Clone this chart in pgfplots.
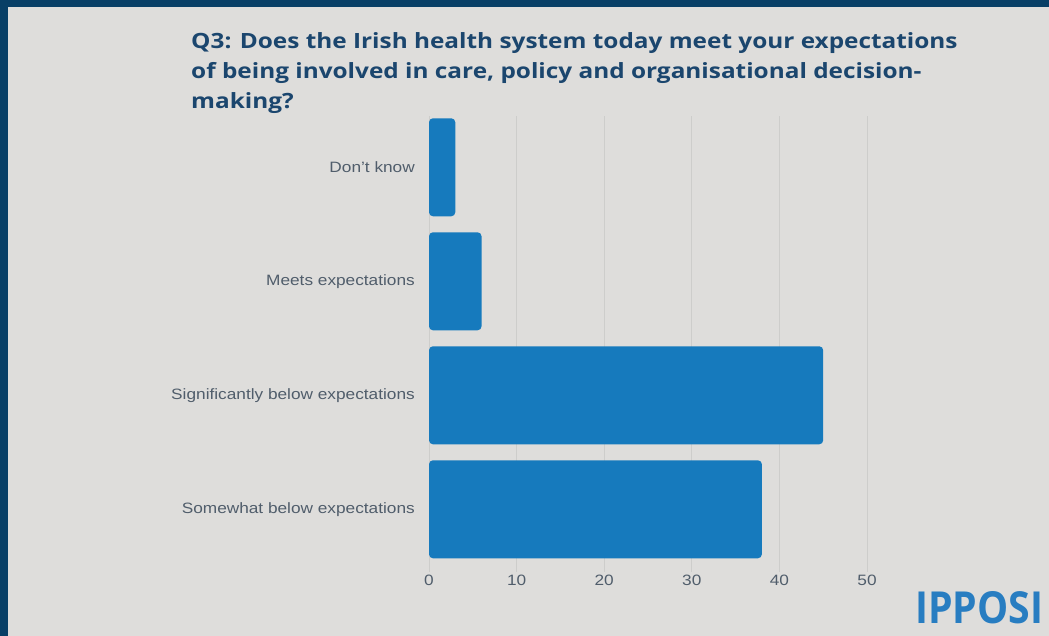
\documentclass[border=0pt]{standalone}
\usepackage{fontspec}
\setmainfont{Liberation Sans}[FakeStretch=1.15]
\newfontfamily\titlefont{Open Sans}[FakeStretch=1.16]
\newfontfamily\logofont{Open Sans}
\usepackage{pgfplots}
\pgfplotsset{compat=1.18}
\definecolor{bgc}{RGB}{222,221,219}
\definecolor{borderc}{RGB}{8,63,102}
\definecolor{titlec}{RGB}{27,70,110}
\definecolor{barc}{RGB}{22,122,189}
\definecolor{labc}{RGB}{80,93,107}
\definecolor{gridc}{RGB}{205,205,203}
\definecolor{logoc}{RGB}{40,125,193}
\begin{document}
\begin{tikzpicture}[x=1pt,y=1pt]
\fill[bgc] (0pt,0pt) rectangle (1049pt,636pt);
\fill[borderc] (0pt,0pt) rectangle (8pt,636pt);
\fill[borderc] (0pt,629pt) rectangle (1049pt,636pt);
\begin{scope}[every node/.style={anchor=base west, inner sep=0pt, text=titlec, font=\titlefont\bfseries\fontsize{21}{30}\selectfont}]
\node at (191pt,587.5pt) {Q3: Does the Irish health system today meet your expectations};
\node at (191pt,557.5pt) {of being involved in care, policy and organisational decision-};
\node at (191pt,527.5pt) {making?};
\end{scope}
\begin{axis}[
  at={(429pt,64pt)}, anchor=south west,
  scale only axis,
  width=446.76pt, height=456pt,
  xmin=0, xmax=51, ymin=-0.55, ymax=3.45,
  xbar, bar width=0.86,
  axis line style={draw=none},
  major tick length=0pt,
  xtick={0,10,20,30,40,50},
  ytick={0,1,2,3},
  yticklabels={Somewhat below expectations, Significantly below expectations, Meets expectations, Don't know},
  xmajorgrids, grid style={gridc, line width=0.7pt},
  /pgf/number format/assume math mode=true,
  tick label style={text=labc, font=\fontsize{15}{17}\selectfont},
  yticklabel style={anchor=east, inner sep=0pt, xshift=-14pt},
  xticklabel style={anchor=north, inner sep=0pt, yshift=-3pt},
]
\addplot[fill=barc, draw=none, rounded corners=4pt] coordinates {(38,0) (45,1) (6,2) (3,3)};
\end{axis}
\node[anchor=south west, inner sep=0pt, text=logoc] at (915pt,12pt) {\resizebox{128pt}{32pt}{\logofont\bfseries IPPOSI}};
\end{tikzpicture}
\end{document}
